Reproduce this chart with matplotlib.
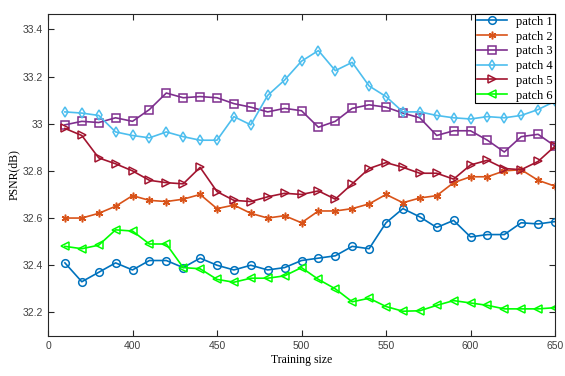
import matplotlib.pyplot as plt
import numpy as np

# training sizes
x = np.arange(360, 651, 10)

patch1 = [32.41, 32.33, 32.37, 32.41, 32.38, 32.42, 32.42, 32.39, 32.43, 32.40,
          32.38, 32.40, 32.38, 32.39, 32.42, 32.43, 32.44, 32.48, 32.47, 32.58,
          32.64, 32.605, 32.56, 32.59, 32.52, 32.53, 32.53, 32.58, 32.575, 32.585]
patch2 = [32.60, 32.60, 32.62, 32.65, 32.695, 32.675, 32.67, 32.68, 32.70, 32.64,
          32.655, 32.62, 32.60, 32.61, 32.58, 32.63, 32.63, 32.64, 32.66, 32.70,
          32.665, 32.685, 32.695, 32.75, 32.775, 32.775, 32.80, 32.805, 32.76, 32.735]
patch3 = [32.995, 33.01, 33.005, 33.025, 33.01, 33.06, 33.13, 33.11, 33.115, 33.11,
          33.085, 33.07, 33.05, 33.065, 33.055, 32.985, 33.01, 33.065, 33.08, 33.07,
          33.045, 33.025, 32.95, 32.97, 32.97, 32.93, 32.88, 32.945, 32.955, 32.905]
patch4 = [33.05, 33.045, 33.035, 32.965, 32.95, 32.94, 32.965, 32.945, 32.93, 32.93,
          33.03, 32.995, 33.12, 33.185, 33.265, 33.31, 33.225, 33.26, 33.16, 33.115,
          33.05, 33.05, 33.035, 33.025, 33.02, 33.03, 33.025, 33.035, 33.06, 33.095]
patch5 = [32.98, 32.95, 32.855, 32.83, 32.80, 32.76, 32.75, 32.745, 32.815, 32.712,
          32.675, 32.67, 32.69, 32.705, 32.70, 32.715, 32.68, 32.745, 32.81, 32.835,
          32.815, 32.79, 32.79, 32.765, 32.825, 32.845, 32.81, 32.805, 32.84, 32.905]
patch6 = [32.48, 32.47, 32.485, 32.55, 32.545, 32.49, 32.49, 32.39, 32.385, 32.34,
          32.328, 32.345, 32.345, 32.355, 32.39, 32.34, 32.30, 32.245, 32.26, 32.225,
          32.205, 32.207, 32.23, 32.25, 32.24, 32.23, 32.215, 32.215, 32.215, 32.22]

series = [patch1, patch2, patch3, patch4, patch5, patch6]
labels = ['patch 1', 'patch 2', 'patch 3', 'patch 4', 'patch 5', 'patch 6']
colors = ['#0072BD', '#D95319', '#7E2F8E', '#4DBEEE', '#A2142F', '#00FF00']
markers = ['o', (6, 2, 0), 's', 'd', '>', '<']

xticks = [350, 400, 450, 500, 550, 600, 650]
xticklabels = ['0', '400', '450', '500', '550', '600', '650']
yticks = [32.2, 32.4, 32.6, 32.8, 33.0, 33.2, 33.4]

fig = plt.figure(figsize=(5.65, 3.76), dpi=100)
ax = fig.add_axes([48 / 565, 40 / 376, 507 / 565, 322 / 376])

for y, lab, c, m in zip(series, labels, colors, markers):
    ms = 5.5 if m != 'o' else 5.5
    ax.plot(x, y, color=c, marker=m, markerfacecolor='none', markeredgecolor=c,
            markersize=ms, markeredgewidth=1.1, linewidth=1.2, label=lab)

ax.set_xlim(350, 650)
ax.set_ylim(32.1, 33.465)
ax.set_xticks(xticks)
ax.set_xticklabels(xticklabels)
ax.set_yticks(yticks)
ax.set_yticklabels(['32.2', '32.4', '32.6', '32.8', '33', '33.2', '33.4'])
ax.tick_params(direction='in', top=True, right=True, length=4, width=0.8,
               labelsize=7.5, colors='#262626', labelcolor='#404040')
for lbl in ax.get_xticklabels() + ax.get_yticklabels():
    lbl.set_family('Liberation Sans')
for sp in ax.spines.values():
    sp.set_color('#262626')
    sp.set_linewidth(0.8)

ax.set_xlabel('Training size', family='Liberation Serif', fontsize=8.5, labelpad=2)
ax.set_ylabel('PSNR(dB)', family='Liberation Serif', fontsize=8.5, labelpad=2)

leg = ax.legend(loc='upper right', borderaxespad=0, fancybox=False,
                prop={'family': 'Liberation Serif', 'size': 9},
                handlelength=2.4, labelspacing=0.22, borderpad=0.15, handletextpad=0.8)
leg.get_frame().set_edgecolor('black')
leg.get_frame().set_linewidth(0.8)
leg.get_frame().set_alpha(1)

plt.savefig('out.png', dpi=100)
